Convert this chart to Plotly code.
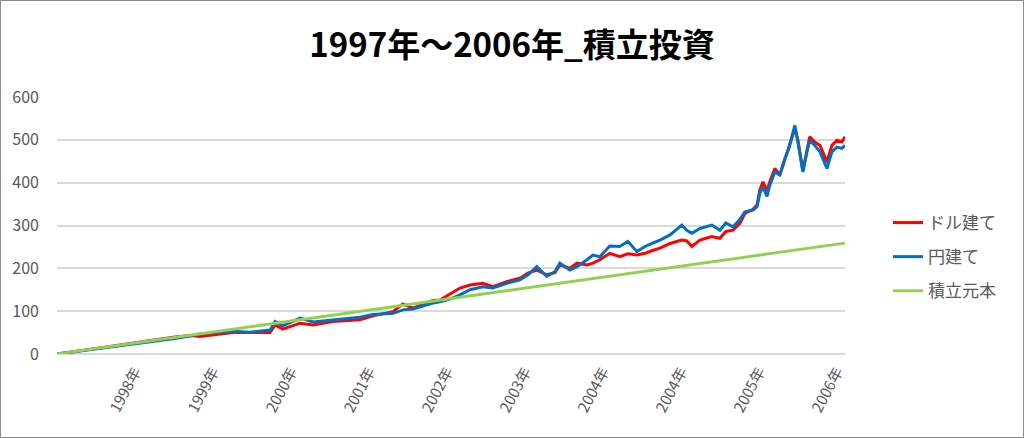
import plotly.graph_objects as go

# ---- data (trading-day index along the category axis) ----
days = [0, 74, 138, 202, 266, 330, 378, 426, 458, 564, 619, 683, 699, 724, 779, 821, 885, 971,
        1013, 1077, 1109, 1141, 1205, 1228, 1260, 1292, 1324, 1365, 1397, 1442, 1484, 1510, 1538,
        1570, 1596, 1612, 1644, 1667, 1699, 1718, 1740, 1772, 1804, 1830, 1859, 1885, 1907, 1933,
        1965, 2003, 2019, 2035, 2061, 2099, 2125, 2144, 2167, 2189, 2205, 2231, 2244, 2253, 2263,
        2276, 2285, 2301, 2317, 2333, 2346, 2365, 2375, 2391, 2404, 2413, 2429, 2446, 2468, 2484,
        2500, 2516, 2526]

dollar = [0, 7, 14, 21, 28, 35, 40, 43, 41, 50, 50, 50, 68, 58, 72, 68, 76, 80,
          89, 99, 117, 107, 125, 126, 140, 154, 161, 165, 157, 169, 177, 189, 196,
          185, 190, 208, 200, 212, 208, 212, 220, 235, 227, 234, 231, 235, 241, 247,
          258, 266, 264, 251, 266, 274, 270, 286, 289, 305, 328, 338, 348, 383, 402,
          380, 402, 433, 418, 456, 482, 526, 500, 428, 475, 507, 495, 487, 448, 487,
          499, 495, 507]

yen = [0, 7, 13, 19, 25, 31, 36, 42, 47, 53, 51, 56, 76, 66, 84, 75, 80, 86,
       92, 95, 103, 105, 119, 122, 128, 138, 150, 157, 154, 165, 173, 185, 204,
       181, 192, 212, 196, 204, 220, 231, 227, 252, 251, 263, 239, 251, 258, 266,
       278, 301, 289, 282, 293, 301, 289, 306, 297, 314, 332, 336, 344, 375, 390,
       368, 394, 425, 418, 456, 480, 534, 495, 425, 472, 499, 487, 472, 433, 472,
       483, 480, 487]

principal_days = [0, 250, 500, 750, 1000, 1250, 1500, 1750, 2000, 2250, 2500, 2526]
principal = [0, 25.6, 51.3, 76.9, 102.5, 128.2, 153.8, 179.4, 205.0, 230.7, 256.3, 259.0]

tick_days = [250, 500, 750, 1000, 1250, 1500, 1750, 2000, 2250, 2500]
tick_labels = ["1998年", "1999年", "2000年", "2001年", "2002年", "2003年",
               "2004年", "2004年", "2005年", "2006年"]

series_names = ["ドル建て", "円建て", "積立元本"]
title_text = "1997年～2006年_積立投資"

FONT = "Noto Sans CJK JP"
GRAY = "#595959"

fig = go.Figure()
fig.add_trace(go.Scatter(x=days, y=dollar, mode="lines", name=series_names[0],
                         line=dict(color="#ff0000", width=3), legendgroup="a"))
fig.add_trace(go.Scatter(x=days, y=yen, mode="lines", name=series_names[1],
                         line=dict(color="#0070c0", width=3), legendgroup="b"))
fig.add_trace(go.Scatter(x=principal_days, y=principal, mode="lines", name=series_names[2],
                         line=dict(color="#92d050", width=2.8), legendgroup="c"))

# plot area in pixels: left 57, right 845, top 97, bottom 354
L, R, T, B = 57, 845, 97, 354
W, H = 1024, 438
pw, ph = R - L, B - T


def px(x):
    return (x - L) / pw


def py(y):
    return (B - y) / ph


fig.update_layout(
    width=W, height=H,
    margin=dict(l=L, r=W - R, t=T, b=H - B, autoexpand=False),
    paper_bgcolor="white", plot_bgcolor="white",
    font=dict(family=FONT, color=GRAY),
    title=dict(text=title_text, x=0.5, xref="container", xanchor="center",
               y=1 - 45 / H, yref="container", yanchor="middle",
               font=dict(family=FONT, size=33, color="#000000", weight="bold")),
    xaxis=dict(range=[0, 2526], tickvals=tick_days, ticktext=tick_labels,
               tickangle=-62, showgrid=False, zeroline=False, showline=False,
               ticks="", ticklabelstandoff=5,
               tickfont=dict(size=15, color=GRAY, family=FONT)),
    yaxis=dict(range=[0, 600], tickvals=[0, 100, 200, 300, 400, 500, 600],
               showgrid=True, gridcolor="#d9d9d9", gridwidth=1.5,
               zeroline=True, zerolinecolor="#d9d9d9", zerolinewidth=1.5,
               ticks="", ticklabelstandoff=17,
               tickfont=dict(size=16, color=GRAY, family=FONT)),
    legend=dict(x=px(888), y=py(205), xanchor="left", yanchor="top",
                font=dict(size=17, color=GRAY, family=FONT),
                tracegroupgap=9, bgcolor="rgba(0,0,0,0)"),
    shapes=[dict(type="rect", xref="paper", yref="paper",
                 x0=px(0.5), x1=px(W - 0.5), y0=py(H - 0.5), y1=py(0.5),
                 line=dict(color="#8c8c8c", width=1), fillcolor="rgba(0,0,0,0)",
                 layer="above")],
)

fig.write_html("out.html", config={"displayModeBar": False},
               post_script="document.body.style.margin='0px';")
